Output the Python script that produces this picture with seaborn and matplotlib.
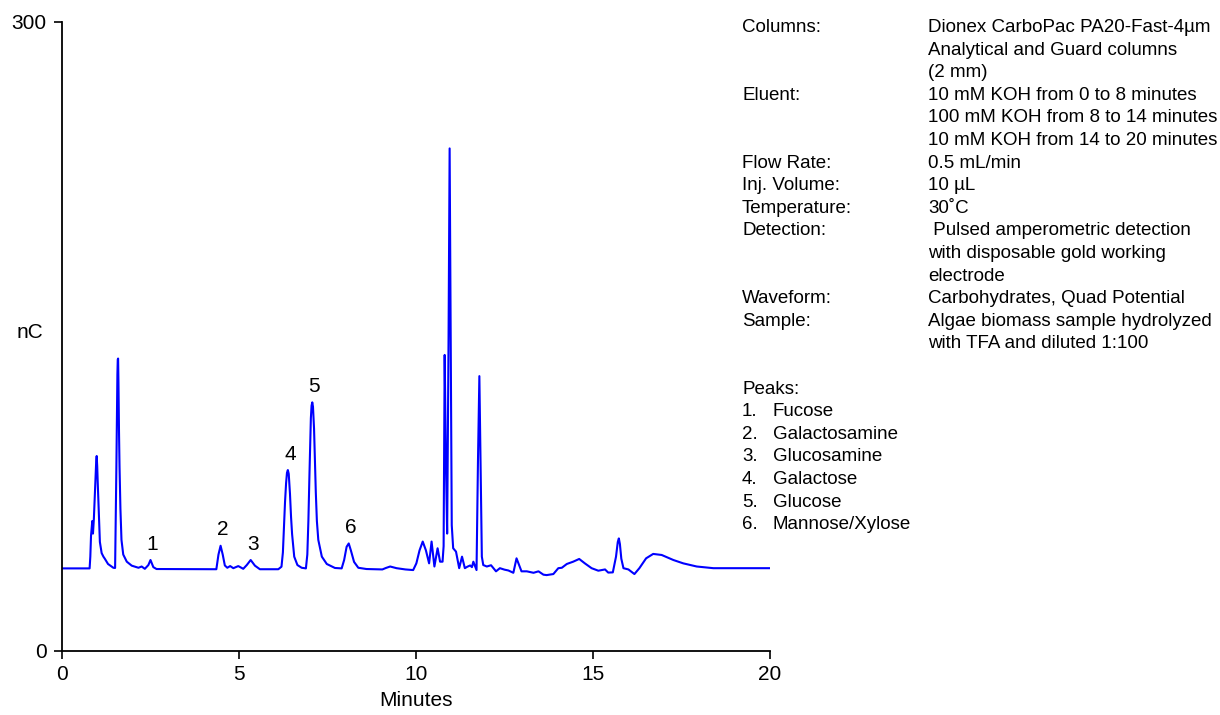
import matplotlib
matplotlib.use("Agg")
import matplotlib.pyplot as plt
import seaborn as sns
import pandas as pd

# ---- data (minutes, nC) ----
time_min = [0.00, 0.78, 0.80, 0.82, 0.855, 0.875, 0.90, 0.94, 0.965, 0.98, 0.995, 1.01, 1.04, 1.07,
            1.12, 1.17, 1.21, 1.30, 1.45, 1.50, 1.535, 1.565, 1.575, 1.585, 1.595, 1.61, 1.625, 1.65,
            1.68, 1.73, 1.83, 1.97, 2.16, 2.25, 2.34, 2.44, 2.50, 2.58, 2.67, 4.36,
            4.42, 4.48, 4.54, 4.60, 4.67, 4.75, 4.84, 4.98, 5.12, 5.22, 5.33, 5.45,
            5.59, 6.11, 6.20, 6.24, 6.27, 6.30, 6.33, 6.355, 6.38, 6.405, 6.44, 6.47, 6.50, 6.56,
            6.65, 6.77, 6.89,
            6.93, 6.96, 6.99, 7.03, 7.05, 7.07, 7.09, 7.12, 7.145, 7.17, 7.20, 7.24, 7.34, 7.48,
            7.71, 7.90, 7.97,
            8.04, 8.10, 8.16, 8.25, 8.37, 8.60, 9.05, 9.15, 9.27, 9.45, 9.70, 9.92,
            10.01, 10.10, 10.19, 10.28, 10.37, 10.44, 10.52, 10.61, 10.68, 10.75, 10.78,
            10.81, 10.845, 10.88, 10.92, 10.95, 10.98, 11.01, 11.05, 11.13, 11.22, 11.30,
            11.38, 11.45, 11.53, 11.58, 11.62, 11.71, 11.75, 11.79, 11.83, 11.86, 11.90,
            12.00, 12.12, 12.26, 12.37, 12.50, 12.61, 12.75, 12.84, 12.98, 13.13, 13.32,
            13.46, 13.60, 13.69, 13.88, 14.02, 14.12, 14.26, 14.44, 14.61, 14.77, 14.96,
            15.15, 15.34, 15.43, 15.56, 15.65, 15.70, 15.73, 15.76, 15.80, 15.86, 16.00, 16.17,
            16.31, 16.50, 16.70, 16.94, 17.27, 17.55, 17.93, 18.40, 19.15, 20.00]
signal_nc = [39.4, 39.4, 45.0, 55.0, 62.0, 56.0, 63.0, 80.0, 90.0, 93.0, 88.0, 80.0, 66.0, 52.0,
             46.7, 45.0, 44.0, 41.5, 39.7, 39.6, 86.0, 132.0, 139.0, 139.5, 128.0, 105.0, 88.0, 68.0,
             53.0, 46.0, 42.6, 40.7, 39.7, 40.3, 39.2, 41.0, 43.4, 40.0, 39.1, 39.0,
             46.0, 50.2, 46.0, 40.8, 39.7, 40.5, 39.5, 40.5, 39.2, 41.0, 43.4, 40.7,
             39.0, 39.0, 40.2, 47.0, 59.0, 71.0, 80.0, 85.0, 86.3, 84.5, 75.0, 64.0, 55.7, 45.0,
             41.0, 39.7, 39.4,
             46.0, 62.0, 84.0, 111.0, 117.0, 118.6, 116.5, 106.0, 90.0, 75.5, 62.0, 53.0, 45.0, 41.5,
             39.6, 39.4, 43.4,
             49.7, 51.3, 48.0, 42.5, 39.7, 39.1, 38.9, 39.6, 40.3, 39.5, 38.9, 38.6,
             41.8, 48.0, 52.2, 48.0, 41.8, 52.2, 40.3, 49.0, 42.6, 42.6, 50.0,
             141.2, 90.0, 56.0, 150.0, 239.7, 150.0, 60.0, 49.0, 47.4, 39.5, 45.0,
             39.5, 40.2, 40.8, 40.0, 42.6, 38.6, 90.0, 131.1, 80.0, 45.0, 41.0,
             40.3, 40.9, 38.0, 39.5, 38.8, 38.4, 37.3, 44.2, 38.0, 38.0, 37.3,
             38.0, 36.4, 36.2, 36.7, 39.5, 39.7, 41.5, 42.6, 43.9, 41.8, 39.5,
             38.3, 38.9, 37.4, 37.5, 45.0, 52.0, 53.7, 51.0, 44.0, 39.5, 38.9, 36.7,
             39.5, 44.2, 46.3, 45.8, 43.4, 41.8, 40.3, 39.5, 39.5, 39.5]

peak_numbers = ["1", "2", "3", "4", "5", "6"]
peak_times = [2.50, 4.48, 5.33, 6.38, 7.07, 8.10]
peak_heights = [43.4, 50.2, 43.4, 86.3, 118.6, 51.3]
peak_names = ["Fucose", "Galactosamine", "Glucosamine", "Galactose", "Glucose", "Mannose/Xylose"]

x_ticks = [0, 5, 10, 15, 20]
y_ticks = [0, 300]

info_keys = ["Columns:", "", "", "Eluent:", "", "", "Flow Rate:", "Inj. Volume:",
             "Temperature:", "Detection:", "", "", "Waveform:", "Sample:", ""]
info_values = ["Dionex CarboPac PA20-Fast-4\u00b5m", "Analytical and Guard columns", "(2 mm)",
               "10 mM KOH from 0 to 8 minutes", "100 mM KOH from 8 to 14 minutes",
               "10 mM KOH from 14 to 20 minutes", "0.5 mL/min", "10 \u00b5L", "30\u02daC",
               " Pulsed amperometric detection", "with disposable gold working", "electrode",
               "Carbohydrates, Quad Potential", "Algae biomass sample hydrolyzed",
               "with TFA and diluted 1:100"]

# ---- styling ----
sns.set_style("ticks")
plt.rcParams["font.family"] = ["Liberation Sans", "DejaVu Sans"]
for key in ["text.color", "axes.labelcolor", "xtick.color", "ytick.color", "axes.edgecolor"]:
    plt.rcParams[key] = "black"

W, H = 1220, 715
fig = plt.figure(figsize=(W / 100, H / 100), dpi=100)
ax = fig.add_axes([62 / W, (H - 651) / H, (770 - 62) / W, (651 - 22) / H])

df = pd.DataFrame({"Minutes": time_min, "nC": signal_nc})
sns.lineplot(data=df, x="Minutes", y="nC", ax=ax, color="#0000ff", linewidth=1.5,
             estimator=None, sort=False)

ax.set_xlim(0, 20)
ax.set_ylim(0, 300)
ax.set_xticks(x_ticks)
ax.set_yticks(y_ticks)
ax.tick_params(axis="both", labelsize=15, length=6, width=1.2, color="black",
               labelcolor="black")
ax.tick_params(axis="x", pad=4)
ax.tick_params(axis="y", pad=5)
for side in ["top", "right"]:
    ax.spines[side].set_visible(False)
for side in ["left", "bottom"]:
    ax.spines[side].set_linewidth(1.3)
    ax.spines[side].set_color("black")

ax.set_xlabel("Minutes", fontsize=15, labelpad=5)
ax.set_ylabel("nC", fontsize=15, rotation=0, ha="right", va="center")
ax.yaxis.set_label_coords(-0.026, 0.507)

for num, t, h in zip(peak_numbers, peak_times, peak_heights):
    ax.annotate(num, xy=(t, h), xytext=(2, 16), textcoords="offset pixels",
                ha="center", va="center", fontsize=15)

# ---- info text block ----
fs = 13.5
x_key = 742 / W
x_val = 928 / W
x_name = 773 / W
line_h = 22.6
base0 = 32.0

def fy(px):
    return 1 - px / H

for i, (k, v) in enumerate(zip(info_keys, info_values)):
    y = fy(base0 + i * line_h)
    if k:
        fig.text(x_key, y, k, fontsize=fs, va="baseline", ha="left")
    fig.text(x_val, y, v, fontsize=fs, va="baseline", ha="left")

row = len(info_keys) + 1
fig.text(x_key, fy(base0 + row * line_h), "Peaks:", fontsize=fs, va="baseline")
for j, (num, name) in enumerate(zip(peak_numbers, peak_names)):
    y = fy(base0 + (row + 1 + j) * line_h)
    fig.text(x_key, y, num + ".", fontsize=fs, va="baseline")
    fig.text(x_name, y, name, fontsize=fs, va="baseline")

fig.savefig("out.png", dpi=100)
